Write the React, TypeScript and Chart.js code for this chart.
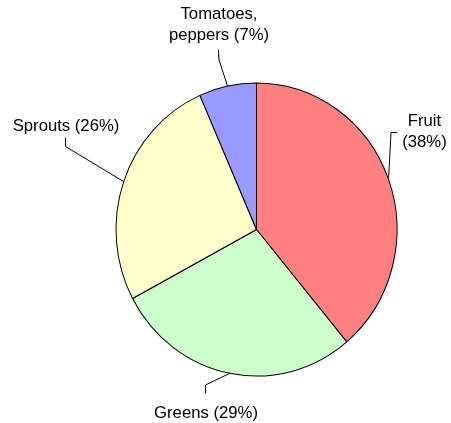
import React, { useEffect, useRef } from "react";
import { Chart, registerables } from "chart.js";

Chart.register(...registerables);

// ---- data ----
const categories = ["Fruit", "Greens", "Sprouts", "Tomatoes, peppers"];
const shares = [38.9, 28.3, 26.2, 6.6];
const percentLabels = ["38%", "29%", "26%", "7%"];
const sliceColors = ["#FF8080", "#CCFFCC", "#FFFFCC", "#9999FF"];

// ---- label layout (annotation placement only) ----
const FONT = '16.7px "Liberation Sans", Arial, sans-serif';
const LINE_H = 21;
const Y_STRETCH = 1.043;
const labelLayout = [
  { breakAfter: 1, tx: 424.5, ty: 125.7, elbow: [391, 132.5], end: [397, 132.5] },
  { breakAfter: 0, tx: 206, ty: 418.3, elbow: [205.5, 385], end: [205.5, 393.5] },
  { breakAfter: 0, tx: 66, ty: 131, elbow: [65.5, 146.5], end: [65.5, 138] },
  { breakAfter: 1, tx: 219, ty: 19.3, elbow: [219, 60], end: [218.5, 50] },
];

const stretchPlugin = {
  id: "stretch",
  beforeDatasetsDraw(chart: any) {
    const a = chart.chartArea;
    const cx = (a.left + a.right) / 2;
    const cy = (a.top + a.bottom) / 2;
    const ctx = chart.ctx;
    ctx.save();
    ctx.translate(cx, cy);
    ctx.scale(1, Y_STRETCH);
    ctx.translate(-cx, -cy);
  },
  afterDatasetsDraw(chart: any) {
    chart.ctx.restore();
  },
};

const labelPlugin = {
  id: "pieLabels",
  afterDraw(chart: any) {
    const ctx = chart.ctx;
    const meta = chart.getDatasetMeta(0);
    ctx.save();
    ctx.font = FONT;
    ctx.fillStyle = "#000";
    ctx.strokeStyle = "#000";
    ctx.lineWidth = 1;
    ctx.textAlign = "center";
    ctx.textBaseline = "alphabetic";
    meta.data.forEach((arc: any, i: number) => {
      const p = arc.getProps(["x", "y", "startAngle", "endAngle", "outerRadius"], true);
      const mid = (p.startAngle + p.endAngle) / 2;
      const rx = p.x + p.outerRadius * Math.cos(mid);
      const ry = p.y + p.outerRadius * Y_STRETCH * Math.sin(mid);
      const L = labelLayout[i];
      ctx.beginPath();
      ctx.moveTo(rx, ry);
      ctx.lineTo(L.elbow[0], L.elbow[1]);
      ctx.lineTo(L.end[0], L.end[1]);
      ctx.stroke();
      const words = `${categories[i]} (${percentLabels[i]})`.split(" ");
      const lines =
        L.breakAfter > 0
          ? [words.slice(0, L.breakAfter).join(" "), words.slice(L.breakAfter).join(" ")]
          : [words.join(" ")];
      lines.forEach((ln, j) => ctx.fillText(ln, L.tx, L.ty + j * LINE_H));
    });
    ctx.restore();
  },
};

export default function App() {
  const ref = useRef<HTMLCanvasElement | null>(null);
  useEffect(() => {
    document.body.style.margin = "0";
    const chart = new Chart(ref.current as HTMLCanvasElement, {
      type: "pie",
      data: {
        labels: categories,
        datasets: [
          {
            data: shares,
            backgroundColor: sliceColors,
            borderColor: "#000",
            borderWidth: 1,
            hoverOffset: 0,
          },
        ],
      },
      options: {
        responsive: false,
        animation: false,
        devicePixelRatio: 1,
        radius: 140.5,
        layout: { padding: { left: 62, right: 0, top: 36, bottom: 0 } },
        plugins: { legend: { display: false }, tooltip: { enabled: false }, title: { display: false } },
        events: [],
      } as any,
      plugins: [stretchPlugin, labelPlugin],
    });
    return () => chart.destroy();
  }, []);
  return (
    <div style={{ position: "absolute", left: 0, top: 0, width: 451, height: 423, background: "#fff" }}>
      <canvas ref={ref} width={451} height={423} />
    </div>
  );
}
